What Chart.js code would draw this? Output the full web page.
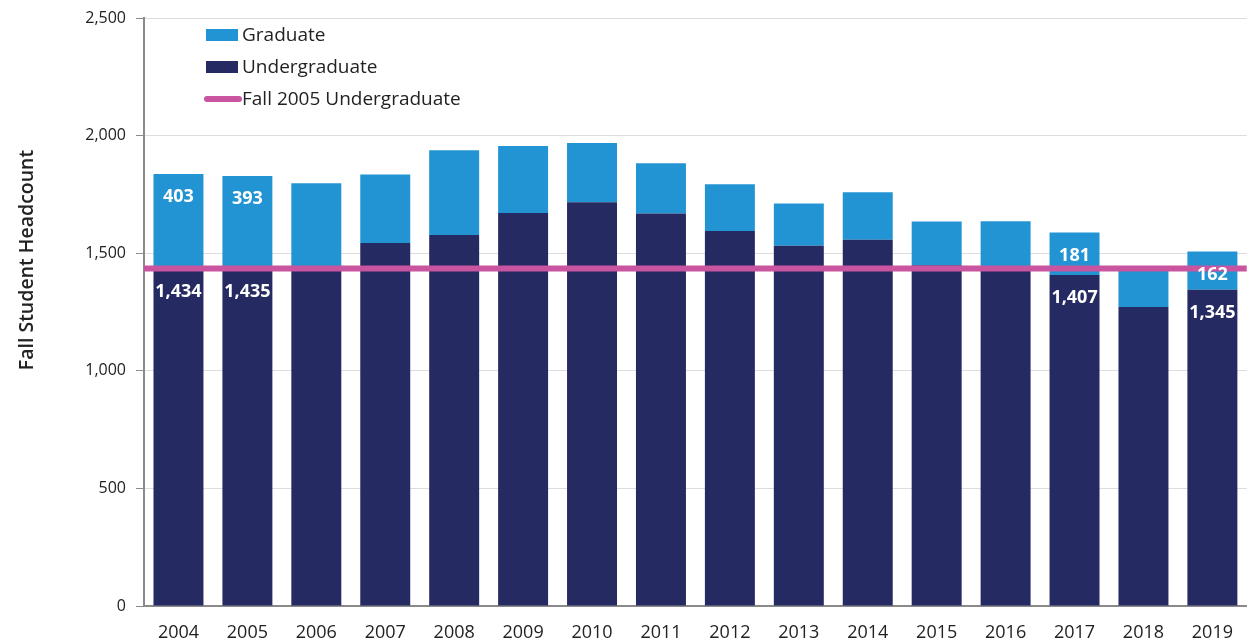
<!DOCTYPE html>
<html>
<head>
<meta charset="utf-8">
<script src="https://cdn.jsdelivr.net/npm/chart.js@4/dist/chart.umd.min.js"></script>
<style>
  html, body { margin: 0; padding: 0; background: #ffffff; }
  #wrap { width: 1249px; height: 643px; position: relative; }
</style>
</head>
<body>
<div id="wrap"><canvas id="c"></canvas></div>
<script>
const years = ['2004','2005','2006','2007','2008','2009','2010','2011','2012','2013','2014','2015','2016','2017','2018','2019'];
const undergraduate = [1434, 1435, 1446, 1543, 1577, 1671, 1717, 1669, 1594, 1532, 1557, 1449, 1437, 1407, 1271, 1345];
const graduate      = [403, 393, 351, 292, 361, 285, 252, 213, 199, 179, 202, 186, 199, 181, 174, 162];
const fall2005Undergraduate = 1435;
const labeledYears = ['2004', '2005', '2017', '2019'];
const yTicks = [0, 500, 1000, 1500, 2000, 2500];
const yTitle = 'Fall Student Headcount';

const COL_GRAD = '#2394d3';
const COL_UG = '#252a62';
const COL_REF = '#c9549f';
const FONT = "'Open Sans', 'Noto Sans', sans-serif";

const valueLabels = {
  id: 'valueLabels',
  afterDatasetsDraw(chart) {
    const ctx = chart.ctx;
    ctx.save();
    ctx.fillStyle = '#ffffff';
    ctx.font = '700 18px ' + FONT;
    ctx.textAlign = 'center';
    ctx.textBaseline = 'middle';
    [0, 1].forEach(di => {
      const meta = chart.getDatasetMeta(di);
      const data = chart.data.datasets[di].data;
      labeledYears.forEach(yr => {
        const i = years.indexOf(yr);
        const el = meta.data[i];
        if (!el) return;
        ctx.fillText(data[i].toLocaleString('en-US'), el.x, el.y + 23);
      });
    });
    ctx.restore();
  }
};

const yAxisTitle = {
  id: 'yAxisTitle',
  afterDraw(chart) {
    const ctx = chart.ctx;
    const a = chart.chartArea;
    ctx.save();
    ctx.translate(27, a.top + 242);
    ctx.rotate(-Math.PI / 2);
    ctx.font = '600 19.5px ' + FONT;
    ctx.fillStyle = '#222222';
    ctx.textAlign = 'center';
    ctx.textBaseline = 'middle';
    ctx.fillText(yTitle, 0, 0);
    ctx.restore();
  }
};

const customLegend = {
  id: 'customLegend',
  afterDraw(chart) {
    const ctx = chart.ctx;
    const a = chart.chartArea;
    const x0 = a.left + 62;
    const y0 = a.top + 17;
    const items = [
      { label: chart.data.datasets[1].label, color: chart.data.datasets[1].backgroundColor, type: 'box' },
      { label: chart.data.datasets[0].label, color: chart.data.datasets[0].backgroundColor, type: 'box' },
      { label: chart.data.datasets[2].label, color: chart.data.datasets[2].borderColor, type: 'line' }
    ];
    ctx.save();
    ctx.font = '19px ' + FONT;
    ctx.textBaseline = 'middle';
    ctx.textAlign = 'left';
    items.forEach((it, k) => {
      const y = y0 + k * 32;
      if (it.type === 'box') {
        ctx.fillStyle = it.color;
        ctx.fillRect(x0, y - 6, 32, 12);
      } else {
        ctx.strokeStyle = it.color;
        ctx.lineWidth = 6;
        ctx.lineCap = 'round';
        ctx.beginPath();
        ctx.moveTo(x0 + 1, y);
        ctx.lineTo(x0 + 33, y);
        ctx.stroke();
      }
      ctx.fillStyle = '#222222';
      ctx.fillText(it.label, x0 + 36, y + 1);
    });
    ctx.restore();
  }
};

new Chart(document.getElementById('c'), {
  data: {
    labels: years,
    datasets: [
      { type: 'bar', label: 'Undergraduate', data: undergraduate, backgroundColor: COL_UG, order: 2, grouped: false },
      { type: 'bar', label: 'Graduate', data: graduate, backgroundColor: COL_GRAD, order: 2, grouped: false },
      { type: 'line', label: 'Fall 2005 Undergraduate', xAxisID: 'x2',
        data: [{ x: 0, y: fall2005Undergraduate }, { x: 1, y: fall2005Undergraduate }],
        borderColor: COL_REF, backgroundColor: COL_REF, borderWidth: 6, pointRadius: 0, order: 0, fill: false }
    ]
  },
  options: {
    responsive: true,
    maintainAspectRatio: false,
    animation: false,
    layout: { padding: { top: 0, right: 1, bottom: 0, left: 0 } },
    datasets: { bar: { barPercentage: 0.725, categoryPercentage: 1.0 } },
    plugins: { legend: { display: false }, tooltip: { enabled: false } },
    scales: {
      x: {
        stacked: true,
        grid: { display: false, drawTicks: false, tickLength: 0 },
        border: { display: true, color: '#8a8a8a', width: 2 },
        afterFit(scale) { scale.height = 37; },
        ticks: { color: '#222222', font: { family: FONT, size: 18 }, padding: 16, maxRotation: 0 }
      },
      x2: { type: 'linear', display: false, min: 0, max: 1 },
      y: {
        stacked: true,
        min: 0, max: 2500,
        afterBuildTicks(scale) { scale.ticks = yTicks.map(v => ({ value: v })); },
        afterFit(scale) { scale.width = 144; },
        grid: { color: '#dddddd', lineWidth: 1, drawTicks: true, tickLength: 8, tickColor: '#8a8a8a' },
        border: { display: true, color: '#8a8a8a', width: 2 },
        ticks: { color: '#222222', font: { family: FONT, size: 16, lineHeight: 1.0 }, padding: 10,
          callback: v => Number(v).toLocaleString('en-US') },
        title: { display: false }
      }
    }
  },
  plugins: [valueLabels, customLegend, yAxisTitle]
});
</script>
</body>
</html>
